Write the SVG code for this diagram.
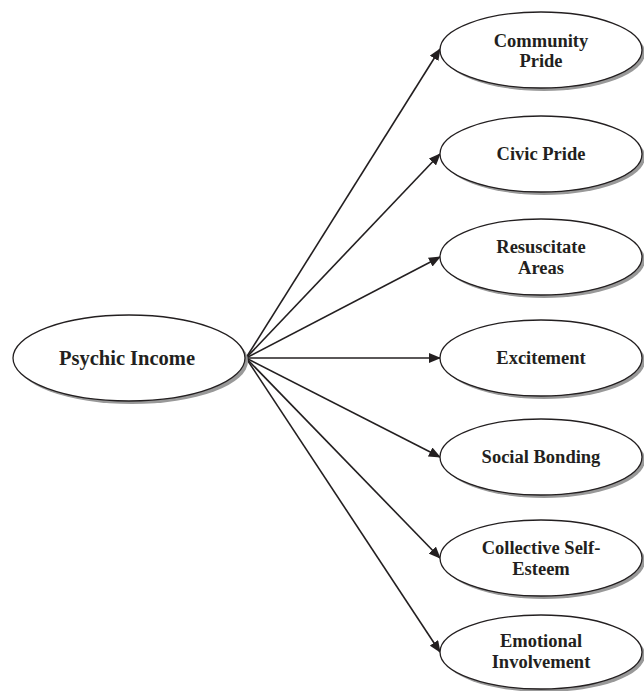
<svg xmlns="http://www.w3.org/2000/svg" width="644" height="691" viewBox="0 0 644 691">
<style>
.sh{fill:#999;stroke:none}
.el{fill:#fff;stroke:#231f20;stroke-width:1.3}
.t{font-family:"Liberation Serif","Times New Roman",serif;font-weight:bold;font-size:18.5px;fill:#231f20;text-anchor:middle}
.big{font-size:20.5px}
.c{stroke:#231f20;stroke-width:1.6;fill:none;marker-end:url(#ah)}
</style>
<defs>
<marker id="ah" markerWidth="12" markerHeight="10" refX="11" refY="5" orient="auto" markerUnits="userSpaceOnUse">
<path d="M0,0 L12,5 L0,10 Z" fill="#231f20"/>
</marker>
</defs>
<rect width="644" height="691" fill="#fff"/>
<g id="connectors">
<line class="c" x1="246" y1="358" x2="440" y2="49"/>
<line class="c" x1="246" y1="358" x2="440" y2="154"/>
<line class="c" x1="246" y1="358" x2="440" y2="257"/>
<line class="c" x1="246" y1="358" x2="440" y2="358"/>
<line class="c" x1="246" y1="358" x2="440" y2="457"/>
<line class="c" x1="246" y1="358" x2="440" y2="558"/>
<line class="c" x1="246" y1="358" x2="440" y2="652"/>
</g>
<g id="psychic">
<ellipse class="sh" cx="132" cy="361" rx="116" ry="43"/>
<ellipse class="el" cx="129" cy="358" rx="116" ry="43"/>
<text class="t big" x="127" y="365">Psychic Income</text>
</g>
<g id="community">
<ellipse class="sh" cx="544" cy="53" rx="101" ry="38"/>
<ellipse class="el" cx="541" cy="50" rx="101" ry="38"/>
<text class="t" x="541" y="47">Community</text>
<text class="t" x="541" y="67">Pride</text>
</g>
<g id="civic">
<ellipse class="sh" cx="544" cy="157" rx="101" ry="38"/>
<ellipse class="el" cx="541" cy="154" rx="101" ry="38"/>
<text class="t" x="541" y="160">Civic Pride</text>
</g>
<g id="resuscitate">
<ellipse class="sh" cx="544" cy="260" rx="101" ry="38"/>
<ellipse class="el" cx="541" cy="257" rx="101" ry="38"/>
<text class="t" x="541" y="253">Resuscitate</text>
<text class="t" x="541" y="274">Areas</text>
</g>
<g id="excitement">
<ellipse class="sh" cx="544" cy="361" rx="101" ry="38"/>
<ellipse class="el" cx="541" cy="358" rx="101" ry="38"/>
<text class="t" x="541" y="364">Excitement</text>
</g>
<g id="social">
<ellipse class="sh" cx="544" cy="460" rx="101" ry="38"/>
<ellipse class="el" cx="541" cy="457" rx="101" ry="38"/>
<text class="t" x="541" y="463">Social Bonding</text>
</g>
<g id="collective">
<ellipse class="sh" cx="544" cy="561" rx="101" ry="38"/>
<ellipse class="el" cx="541" cy="558" rx="101" ry="38"/>
<text class="t" x="541" y="554">Collective Self-</text>
<text class="t" x="541" y="575">Esteem</text>
</g>
<g id="emotional">
<ellipse class="sh" cx="544" cy="655" rx="101" ry="37"/>
<ellipse class="el" cx="541" cy="652" rx="101" ry="37"/>
<text class="t" x="541" y="647">Emotional</text>
<text class="t" x="541" y="668">Involvement</text>
</g>
</svg>
